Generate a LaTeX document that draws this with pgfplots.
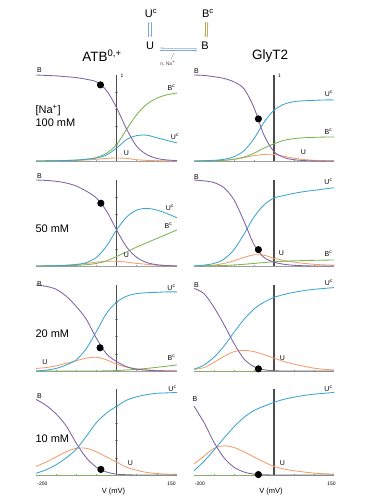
\documentclass[border=0pt]{standalone}
\usepackage{fontspec}
\setmainfont{Liberation Sans}
\usepackage{pgfplots}
\usepackage{pgfplotstable}
\pgfplotsset{compat=1.18}
\usetikzlibrary{arrows.meta}
\definecolor{cB}{RGB}{125,98,165}
\definecolor{cUc}{RGB}{58,165,208}
\definecolor{cBc}{RGB}{122,180,82}
\definecolor{cU}{RGB}{240,158,108}
\definecolor{arrblue}{RGB}{130,165,215}
\definecolor{arrlight}{RGB}{165,200,235}
\definecolor{arrgreen}{RGB}{150,180,80}
\definecolor{arrorange}{RGB}{225,160,90}

% ATB 100 mM
\pgfplotstableread{
V B Uc Bc U
-200 1.0 0 0 0
-175 0.995 0.001 0.001 0.001
-150 0.99 0.003 0.003 0.003
-125 0.98 0.006 0.006 0.005
-100 0.97 0.01 0.01 0.008
-75 0.95 0.02 0.02 0.012
-50 0.92 0.035 0.04 0.02
-25 0.82 0.07 0.09 0.03
0 0.62 0.15 0.19 0.035
25 0.37 0.25 0.37 0.03
50 0.17 0.295 0.54 0.015
75 0.075 0.30 0.66 0.007
100 0.03 0.27 0.73 0.003
125 0.012 0.24 0.77 0.001
150 0.005 0.21 0.79 0
}\tAa
% GlyT2 100 mM
\pgfplotstableread{
V B Uc Bc U
-200 1.0 0 0 0
-175 0.995 0.003 0.001 0.001
-150 0.98 0.008 0.003 0.003
-125 0.96 0.02 0.008 0.008
-100 0.92 0.05 0.02 0.02
-75 0.84 0.12 0.045 0.04
-50 0.62 0.26 0.09 0.062
-25 0.30 0.45 0.15 0.076
0 0.11 0.59 0.20 0.077
25 0.04 0.66 0.24 0.055
50 0.015 0.69 0.26 0.032
75 0.005 0.70 0.27 0.017
100 0.001 0.705 0.275 0.008
125 0 0.71 0.278 0.004
150 0 0.71 0.28 0.002
}\tBa
% ATB 50 mM
\pgfplotstableread{
V B Uc Bc U
-200 1.0 0 0 0
-175 0.995 0.001 0.001 0.002
-150 0.985 0.003 0.003 0.005
-125 0.965 0.007 0.005 0.01
-100 0.93 0.015 0.008 0.02
-75 0.87 0.04 0.015 0.03
-50 0.79 0.10 0.03 0.045
-25 0.64 0.23 0.06 0.055
0 0.42 0.42 0.11 0.055
25 0.22 0.57 0.165 0.045
50 0.10 0.65 0.22 0.03
75 0.04 0.67 0.27 0.02
100 0.015 0.65 0.32 0.01
125 0.005 0.61 0.37 0.005
150 0 0.56 0.42 0.003
}\tAb
% GlyT2 50 mM
\pgfplotstableread{
V B Uc Bc U
-200 1.0 0 0 0
-175 0.99 0.01 0.001 0.003
-150 0.97 0.03 0.003 0.01
-125 0.91 0.08 0.006 0.03
-100 0.77 0.19 0.012 0.06
-75 0.52 0.37 0.02 0.10
-50 0.25 0.57 0.03 0.13
-25 0.10 0.71 0.04 0.125
0 0.045 0.79 0.05 0.09
25 0.02 0.82 0.055 0.065
50 0.008 0.845 0.06 0.045
75 0.003 0.865 0.063 0.03
100 0 0.88 0.066 0.02
125 0 0.895 0.068 0.013
150 0 0.91 0.07 0.01
}\tBb
% ATB 20 mM
\pgfplotstableread{
V B Uc Bc U
-200 1.0 0 0 0.03
-175 0.985 0.01 0 0.04
-150 0.95 0.03 0 0.06
-125 0.87 0.07 0 0.09
-100 0.75 0.13 0 0.12
-75 0.60 0.26 0 0.15
-50 0.38 0.46 0 0.16
-25 0.20 0.67 0.002 0.13
0 0.11 0.80 0.005 0.08
25 0.05 0.87 0.012 0.045
50 0.02 0.90 0.02 0.025
75 0.01 0.91 0.03 0.012
100 0.003 0.915 0.043 0.006
125 0 0.92 0.056 0.003
150 0 0.92 0.07 0
}\tAc
% GlyT2 20 mM
\pgfplotstableread{
V B Uc Bc U
-200 0.96 0.02 0 0.02
-175 0.90 0.07 0 0.04
-150 0.74 0.16 0 0.10
-125 0.54 0.29 0 0.17
-100 0.32 0.45 0 0.225
-75 0.14 0.60 0 0.24
-50 0.05 0.72 0 0.225
-25 0.015 0.80 0 0.19
0 0.003 0.855 0 0.15
25 0 0.89 0 0.11
50 0 0.915 0 0.08
75 0 0.935 0 0.055
100 0 0.95 0 0.033
125 0 0.96 0 0.02
150 0 0.97 0 0.012
}\tBc
% ATB 10 mM
\pgfplotstableread{
V B Uc Bc U
-200 0.88 0.02 0 0.10
-175 0.81 0.06 0 0.15
-150 0.71 0.12 0 0.21
-125 0.57 0.20 0 0.27
-100 0.37 0.30 0 0.31
-75 0.20 0.45 0 0.31
-50 0.09 0.61 0 0.27
-25 0.035 0.72 0 0.21
0 0.01 0.80 0 0.15
25 0.003 0.87 0 0.09
50 0 0.91 0 0.055
75 0 0.935 0 0.03
100 0 0.95 0 0.017
125 0 0.955 0 0.01
150 0 0.96 0 0.007
}\tAd
% GlyT2 10 mM
\pgfplotstableread{
V B Uc Bc U
-200 0.80 0.05 0 0.13
-175 0.61 0.16 0 0.22
-150 0.38 0.29 0 0.31
-125 0.20 0.43 0 0.34
-100 0.09 0.56 0 0.32
-75 0.035 0.67 0 0.27
-50 0.01 0.75 0 0.21
-25 0.003 0.80 0 0.15
0 0 0.845 0 0.10
25 0 0.88 0 0.07
50 0 0.905 0 0.05
75 0 0.925 0 0.035
100 0 0.94 0 0.022
125 0 0.95 0 0.015
150 0 0.96 0 0.01
}\tBd

\pgfplotsset{
  panel/.style={
    scale only axis, width=141pt, height=86pt,
    xmin=-200, xmax=150, ymin=0, ymax=1,
    axis lines=middle, axis line style={-},
    x axis line style={gray!75, line width=0.6pt},
    y axis line style={black!70, line width=1.3pt},
    xtick={-150,-100,-50,50,100}, ytick={0.2,0.4,0.6,0.8},
    xticklabels={}, yticklabels={},
    major tick length=2.5pt,
    tick style={gray!80, line width=0.5pt},
    clip=false, anchor=south west,
    every axis plot/.append style={line width=0.85pt, no marks, smooth},
  },
  dot/.style={only marks, mark=*, mark size=3.1pt, black},
}
\newcommand\curves[1]{%
  \addplot[cU] table[x=V,y=U]{#1};
  \addplot[cBc] table[x=V,y=Bc]{#1};
  \addplot[cUc] table[x=V,y=Uc]{#1};
  \addplot[cB] table[x=V,y=B]{#1};
}
\newcommand\lab[1]{{\fontsize{7}{8}\selectfont #1}}
\newcommand\sm[1]{{\fontsize{5}{6}\selectfont #1}}
\newcommand\supc[1]{\textsuperscript{#1}}

\begin{document}
\begin{tikzpicture}[x=1pt,y=1pt]
\useasboundingbox (0,0) rectangle (373,-500);

% ---- scheme ----
\node[font=\fontsize{11}{12}\selectfont] at (151,-13) {U\supc{c}};
\node[font=\fontsize{11}{12}\selectfont] at (208,-13) {B\supc{c}};
\node[font=\fontsize{11}{12}\selectfont] at (150,-46) {U};
\node[font=\fontsize{11}{12}\selectfont] at (205,-46) {B};
\draw[arrblue, line width=0.6pt, -{Stealth[length=2.5pt,width=2pt]}] (148.7,-37) -- (148.7,-22);
\draw[arrblue, line width=0.6pt, -{Stealth[length=2.5pt,width=2pt]}] (151.3,-22) -- (151.3,-37);
\draw[arrgreen, line width=0.6pt, -{Stealth[length=2.5pt,width=2pt]}] (205.3,-22) -- (205.3,-37);
\draw[arrorange, line width=0.6pt, -{Stealth[length=2.5pt,width=2pt]}] (207.5,-37) -- (207.5,-22);
\draw[arrlight, line width=0.9pt, -{Stealth[length=3pt,width=2.4pt]}] (197,-48) -- (160,-48);
\draw[arrblue, line width=0.6pt, -{Stealth[length=2.5pt,width=2pt]}] (160,-50.5) -- (197,-50.5);
\draw[gray, line width=0.4pt] (174,-53) -- (171,-59);
\node[font=\fontsize{5}{6}\selectfont, text=black!70] at (168,-63) {n, Na\supc{+}};

% ---- titles ----
\node[font=\fontsize{13.5}{15}\selectfont] at (102,-56) {ATB\supc{0,+}};
\node[font=\fontsize{13.5}{15}\selectfont] at (270,-56) {GlyT2};

% ---- row 1 ----
\begin{axis}[panel, at={(36pt,-161pt)}]
\curves{\tAa}
\addplot[dot] coordinates {(-40,0.885)};
\end{axis}
\begin{axis}[panel, at={(194pt,-161pt)}, width=140pt]
\curves{\tBa}
\addplot[dot] coordinates {(-39,0.49)};
\end{axis}
% ---- row 2 ----
\begin{axis}[panel, at={(36pt,-266pt)}]
\curves{\tAb}
\addplot[dot] coordinates {(-39,0.73)};
\end{axis}
\begin{axis}[panel, at={(194pt,-266pt)}, width=140pt]
\curves{\tBb}
\addplot[dot] coordinates {(-39,0.19)};
\end{axis}
% ---- row 3 ----
\begin{axis}[panel, at={(36pt,-371pt)}]
\curves{\tAc}
\addplot[dot] coordinates {(-41,0.27)};
\end{axis}
\begin{axis}[panel, at={(194pt,-371pt)}, width=140pt]
\curves{\tBc}
\addplot[dot] coordinates {(-39,0.025)};
\end{axis}
% ---- row 4 ----
\begin{axis}[panel, at={(36pt,-475pt)}]
\curves{\tAd}
\addplot[dot] coordinates {(-39,0.065)};
\end{axis}
\begin{axis}[panel, at={(194pt,-475pt)}, width=140pt]
\curves{\tBd}
\addplot[dot] coordinates {(-39,0.005)};
\end{axis}

% ---- labels ----
% row 1 left
\node at (39.5,-70) {\lab{B}};
\node at (122,-75.5) {\sm{1}};
\node[anchor=west, font=\fontsize{11}{12}\selectfont] at (32,-110) {[Na\supc{+}]};
\node[anchor=west, font=\fontsize{11}{12}\selectfont] at (32,-123) {100 mM};
\node at (171.5,-88) {\lab{B\supc{c}}};
\node at (175,-137) {\lab{U\supc{c}}};
\node at (126.5,-153) {\lab{U}};
% row 1 right
\node at (196.5,-71.5) {\lab{B}};
\node at (279.5,-76) {\sm{1}};
\node at (329,-94) {\lab{U\supc{c}}};
\node at (328.5,-131.5) {\lab{B\supc{c}}};
\node at (303.5,-152.5) {\lab{U}};
% row 2 left
\node at (39.5,-176.5) {\lab{B}};
\node[anchor=west, font=\fontsize{11}{12}\selectfont] at (32,-228.5) {50 mM};
\node at (170,-208) {\lab{U\supc{c}}};
\node at (168.5,-225.5) {\lab{B\supc{c}}};
\node at (126.5,-255) {\lab{U}};
% row 2 right
\node at (196.5,-177.5) {\lab{B}};
\node at (328.5,-181.5) {\lab{U\supc{c}}};
\node at (281.5,-253) {\lab{U}};
\node at (328.5,-254) {\lab{B\supc{c}}};
% row 3 left
\node at (39.5,-284) {\lab{B}};
\node at (171.5,-288) {\lab{U\supc{c}}};
\node[anchor=west, font=\fontsize{11}{12}\selectfont] at (32,-334) {20 mM};
\node at (45,-362.5) {\lab{U}};
\node at (171.5,-358) {\lab{B\supc{c}}};
% row 3 right
\node at (196.5,-285) {\lab{B}};
\node at (329,-282.5) {\lab{U\supc{c}}};
\node at (282.5,-358) {\lab{U}};
% row 4 left
\node at (39.5,-396.5) {\lab{B}};
\node at (172.5,-389) {\lab{U\supc{c}}};
\node[anchor=west, font=\fontsize{11}{12}\selectfont] at (32,-438.5) {10 mM};
\node at (130.5,-463) {\lab{U}};
\node at (42.5,-483.5) {\sm{-200}};
\node[font=\fontsize{7.5}{8}\selectfont] at (113.5,-491.5) {V (mV)};
\node at (171.5,-483.5) {\sm{150}};
% row 4 right
\node at (195,-399) {\lab{B}};
\node at (328.5,-388.5) {\lab{U\supc{c}}};
\node at (282.5,-463) {\lab{U}};
\node at (200,-483.5) {\sm{-200}};
\node[font=\fontsize{7.5}{8}\selectfont] at (271,-491.5) {V (mV)};
\node at (331.5,-483.5) {\sm{150}};
\end{tikzpicture}
\end{document}
